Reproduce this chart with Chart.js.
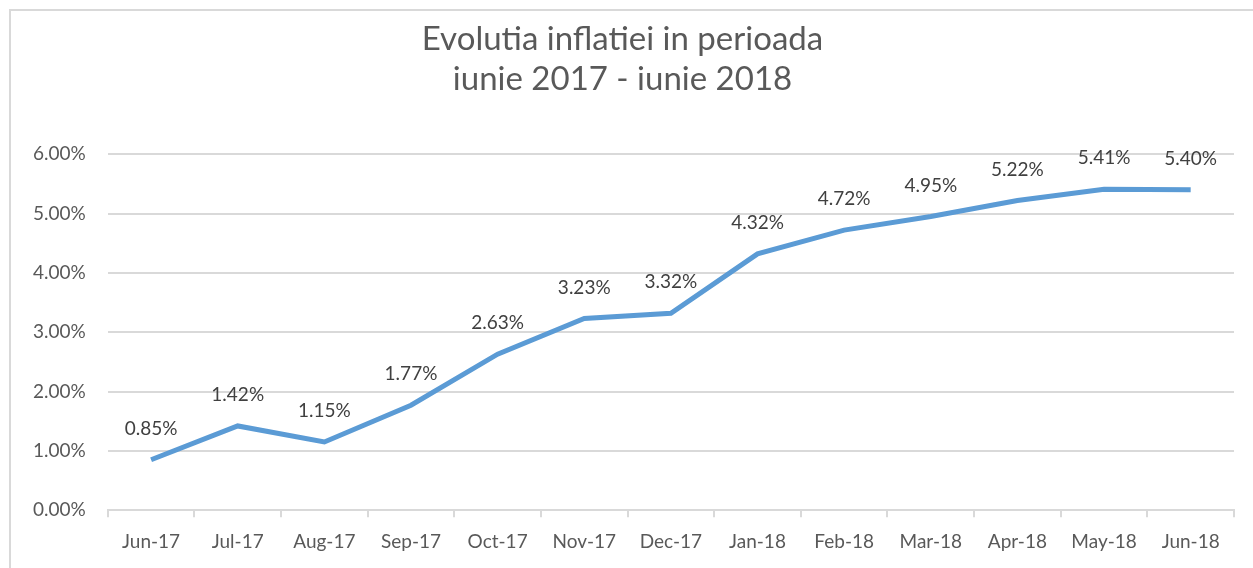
<!DOCTYPE html>
<html>
<head>
<meta charset="utf-8">
<script src="https://cdn.jsdelivr.net/npm/chart.js@4/dist/chart.umd.min.js"></script>
<style>
  html, body { margin: 0; padding: 0; background: #fff; }
  .frame { position: absolute; left: 9px; top: 9px; width: 1260px; height: 580px; border: 2px solid #d9d9d9; box-sizing: border-box; }
  .wrap { position: absolute; left: 0; top: 0; width: 1253px; height: 568px; }
</style>
</head>
<body>
<div class="frame"></div>
<div class="wrap"><canvas id="inflationChart"></canvas></div>
<script>
const months = ["Jun-17", "Jul-17", "Aug-17", "Sep-17", "Oct-17", "Nov-17", "Dec-17", "Jan-18", "Feb-18", "Mar-18", "Apr-18", "May-18", "Jun-18"];
const inflation = [0.85, 1.42, 1.15, 1.77, 2.63, 3.23, 3.32, 4.32, 4.72, 4.95, 5.22, 5.41, 5.40];
const titleLines = ["Evolutia inflatiei in perioada", "iunie 2017 - iunie 2018"];

const fontFamily = "Lato, 'Open Sans', sans-serif";

// draws the value above each point, like the spreadsheet data labels
const pointLabels = {
  id: "pointLabels",
  afterDatasetsDraw(chart) {
    const ctx = chart.ctx;
    const meta = chart.getDatasetMeta(0);
    ctx.save();
    ctx.font = "19px " + fontFamily;
    ctx.fillStyle = "#404040";
    ctx.textAlign = "center";
    ctx.textBaseline = "middle";
    meta.data.forEach((pt, i) => {
      ctx.fillText(inflation[i].toFixed(2) + "%", pt.x, pt.y - 31);
    });
    ctx.restore();
  },
};

new Chart(document.getElementById("inflationChart"), {
  type: "line",
  data: {
    labels: months,
    datasets: [{
      data: inflation,
      borderColor: "#5b9bd5",
      borderWidth: 5,
      pointRadius: 0,
      tension: 0,
      fill: false,
    }],
  },
  options: {
    responsive: true,
    maintainAspectRatio: false,
    animation: false,
    layout: { padding: { left: 11, right: 19, top: 14, bottom: 2 } },
    plugins: {
      legend: { display: false },
      tooltip: { enabled: false },
      title: {
        display: true,
        text: titleLines,
        color: "#595959",
        font: { family: fontFamily, size: 33, weight: "normal", lineHeight: 1.2 },
        padding: { top: 6, bottom: 55 },
      },
    },
    scales: {
      x: {
        offset: true,
        grid: { offset: true, color: "rgba(0,0,0,0)", tickColor: "#d9d9d9", tickLength: 7, lineWidth: 2, drawOnChartArea: false },
        border: { display: true, color: "#d9d9d9", width: 2 },
        ticks: { color: "#595959", font: { family: fontFamily, size: 19 }, padding: 13, maxRotation: 0, autoSkip: false },
      },
      y: {
        min: 0,
        max: 6,
        grid: { color: "#d9d9d9", lineWidth: 2, drawTicks: false },
        border: { display: false },
        ticks: {
          stepSize: 1,
          color: "#595959",
          font: { family: fontFamily, size: 19 },
          padding: 22,
          callback: (v) => v.toFixed(2) + "%",
        },
      },
    },
  },
  plugins: [pointLabels],
});
</script>
</body>
</html>
